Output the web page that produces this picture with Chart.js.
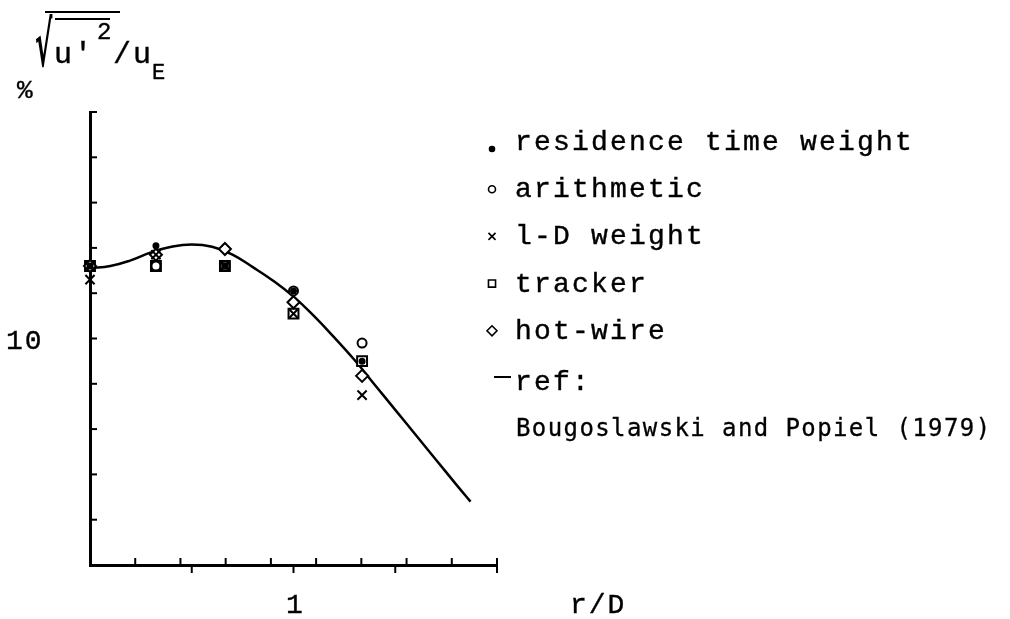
<!DOCTYPE html>
<html>
<head>
<meta charset="utf-8">
<script src="https://cdn.jsdelivr.net/npm/chart.js@4/dist/chart.umd.min.js"></script>
<style>
  html, body { margin: 0; padding: 0; background: #fff; }
  #wrap { width: 1010px; height: 619px; }
</style>
</head>
<body>
<div id="wrap"><canvas id="profile" width="1010" height="619"></canvas></div>
<script>
// radial positions r/D of the measuring stations
var stations = [0, 0.324, 0.663, 1.0, 1.337];

// turbulence intensity in % for each averaging method
var residenceTime = [13.2, 14.1, 13.2, 12.1, 9.0];
var arithmetic = [13.2, 13.2, 13.2, 12.1, 9.8];
var oneDWeight = [12.6, 13.7, 13.2, 11.1, 7.5];
var tracker = [13.2, 13.2, 13.2, 11.1, 9.0];
var hotWire = [13.2, 13.7, 13.95, 11.6, 8.35];

// reference curve (Bougoslawski and Popiel 1979)
var refX = [0, 0.1, 0.2, 0.3, 0.4, 0.5, 0.6, 0.7, 0.8, 0.9, 1.0, 1.1, 1.2, 1.3, 1.4, 1.5, 1.6, 1.7, 1.8, 1.87];
var refY = [13.1, 13.2, 13.45, 13.8, 14.05, 14.15, 14.05, 13.7, 13.15, 12.55, 11.85, 11.0, 10.05, 9.05, 7.95, 6.85, 5.75, 4.65, 3.55, 2.8];

var yTicks = [2, 4, 6, 8, 10, 12, 14, 16, 18, 20];
var xMajorTicks = [0.5, 1, 1.5, 2];
var xMinorTicks = [2/9, 4/9, 6/9, 8/9, 10/9, 12/9, 14/9, 16/9, 2];
var yLabels = [{ v: 10, text: '10' }];
var xLabels = [{ v: 1, text: '1' }];

var legendItems = [
    { text: 'residence time weight', style: 'circle', r: 2.5, fill: '#000' },
    { text: 'arithmetic', style: 'circle', r: 3.5, fill: '#fff' },
    { text: 'l-D weight', style: 'crossRot', r: 5, fill: '#fff' },
    { text: 'tracker', style: 'rect', r: 5, fill: '#fff' },
    { text: 'hot-wire', style: 'rectRot', r: 5, fill: '#fff' }
];

function pairs(xs, ys) {
    return xs.map(function (v, i) { return { x: v, y: ys[i] }; });
}

var MONO = '"Liberation Mono", "Courier New", monospace';

function line(ctx, x1, y1, x2, y2) {
    ctx.beginPath();
    ctx.moveTo(x1, y1);
    ctx.lineTo(x2, y2);
    ctx.stroke();
}

// typewriter ink is a bit heavier than the regular face
function inkText(ctx, text, x, y) {
    ctx.fillText(text, x, y);
    ctx.strokeText(text, x, y);
}

var decor = {
    id: 'decor',
    afterDraw: function (chart) {
        var ctx = chart.ctx;
        var xs = chart.scales.x;
        var ys = chart.scales.y;
        var left = chart.chartArea.left;
        var bottom = chart.chartArea.bottom;
        ctx.save();
        ctx.strokeStyle = '#000';
        ctx.fillStyle = '#000';
        ctx.lineWidth = 2;

        // y ticks point into the plot
        yTicks.forEach(function (v) {
            var py = ys.getPixelForValue(v);
            line(ctx, left, py, left + 7, py);
        });
        // x minor ticks up, major ticks down
        xMinorTicks.forEach(function (v) {
            var px = xs.getPixelForValue(v);
            line(ctx, px, bottom, px, bottom - 7);
        });
        xMajorTicks.forEach(function (v) {
            var px = xs.getPixelForValue(v);
            line(ctx, px, bottom, px, bottom + 8);
        });

        ctx.lineWidth = 0.4;
        ctx.letterSpacing = '2px';
        ctx.font = '28px ' + MONO;
        ctx.textBaseline = 'alphabetic';
        ctx.textAlign = 'left';
        yLabels.forEach(function (l) {
            inkText(ctx, l.text, 6, ys.getPixelForValue(l.v) + 10);
        });
        ctx.textAlign = 'center';
        xLabels.forEach(function (l) {
            inkText(ctx, l.text, xs.getPixelForValue(l.v) + 2, 613);
        });
        ctx.textAlign = 'left';
        inkText(ctx, 'r/D', 570, 613);

        // y axis title: sqrt(mean u'^2) / u_E  and  %
        ctx.letterSpacing = '0px';
        ctx.save();
        ctx.translate(35, 0);
        ctx.scale(0.42, 1);
        ctx.font = 'bold 62px "DejaVu Sans", sans-serif';
        ctx.fillText('\u221A', 0, 66);
        ctx.restore();
        ctx.lineWidth = 2;
        line(ctx, 45, 12, 120, 12);
        line(ctx, 55, 19, 110, 19);
        ctx.lineWidth = 0.4;
        ctx.letterSpacing = '2px';
        ctx.font = '30px ' + MONO;
        inkText(ctx, "u'", 54, 63);
        ctx.font = '24px ' + MONO;
        inkText(ctx, '2', 97, 39);
        ctx.font = '30px ' + MONO;
        inkText(ctx, '/u', 113, 63);
        ctx.font = '22px ' + MONO;
        inkText(ctx, 'E', 152, 79);
        ctx.font = '26px ' + MONO;
        inkText(ctx, '%', 17, 98);

        // legend
        ctx.font = '28px ' + MONO;
        ctx.letterSpacing = '2.2px';
        var base = 150;
        legendItems.forEach(function (it, i) {
            var by = base + i * 47.2;
            ctx.fillStyle = it.fill;
            ctx.lineWidth = 1.6;
            Chart.helpers.drawPoint(ctx, {
                pointStyle: it.style, radius: it.r, borderWidth: 1.6,
                rotation: 0
            }, 492, it.style === 'circle' && it.r < 3 ? by - 1 : by - 8);
            ctx.fillStyle = '#000';
            ctx.lineWidth = 0.4;
            inkText(ctx, it.text, 515, by);
        });
        ctx.lineWidth = 2;
        line(ctx, 494, 377, 511, 377);
        ctx.lineWidth = 0.4;
        inkText(ctx, 'ref:', 515, 390);
        ctx.font = '24px "DejaVu Sans Mono", monospace';
        ctx.letterSpacing = '1.4px';
        ctx.lineWidth = 0.3;
        inkText(ctx, 'Bougoslawski and Popiel (1979)', 516, 436);
        ctx.restore();
    }
};

var markBase = { showLine: false, borderColor: '#000', backgroundColor: '#fff', pointBorderWidth: 2, clip: false };

function markSet(label, ys, style, radius, fill, order) {
    return Object.assign({}, markBase, {
        label: label,
        data: pairs(stations, ys),
        pointStyle: style,
        pointRadius: radius,
        pointBackgroundColor: fill,
        order: order
    });
}

var ctx = document.getElementById('profile').getContext('2d');
var chart = new Chart(ctx, {
    type: 'scatter',
    data: {
        datasets: [
            {
                label: 'ref',
                data: pairs(refX, refY),
                showLine: true,
                borderColor: '#000',
                borderWidth: 2.5,
                pointRadius: 0,
                tension: 0.45,
                fill: false,
                order: 6
            },
            markSet('tracker', tracker, 'rect', 7, '#fff', 5),
            markSet('arithmetic', arithmetic, 'circle', 4.5, '#fff', 4),
            markSet('hot-wire', hotWire, 'rectRot', 6, '#fff', 3),
            markSet('l-D weight', oneDWeight, 'crossRot', 6.5, '#fff', 2),
            markSet('residence time weight', residenceTime, 'circle', 2.5, '#000', 1)
        ]
    },
    options: {
        responsive: false,
        animation: false,
        layout: { padding: { left: 90, right: 513, top: 112, bottom: 54 } },
        plugins: { legend: { display: false }, tooltip: { enabled: false } },
        scales: {
            x: {
                type: 'linear', min: 0, max: 2,
                ticks: { display: false },
                grid: { display: false },
                border: { display: true, color: '#000', width: 3 },
                afterFit: function (s) { s.height = 0; }
            },
            y: {
                type: 'linear', min: 0, max: 20,
                ticks: { display: false },
                grid: { display: false },
                border: { display: true, color: '#000', width: 3 },
                afterFit: function (s) { s.width = 0; }
            }
        }
    },
    plugins: [decor]
});
</script>
</body>
</html>
